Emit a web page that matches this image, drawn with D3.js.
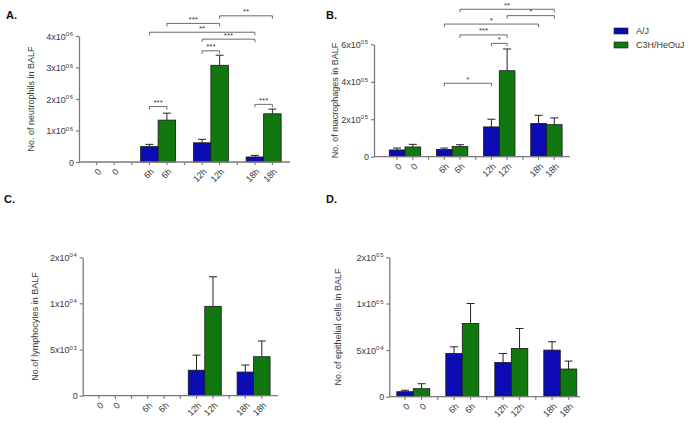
<!DOCTYPE html>
<html><head><meta charset="utf-8">
<script src="https://cdn.jsdelivr.net/npm/d3@7"></script>
<style>
body{margin:0;background:#fff;}
svg{font-family:"Liberation Sans",Arial,sans-serif;}
</style></head>
<body><svg id="c" width="689" height="423"></svg>
<script>
// ---------- data ----------
const groups = ["0", "6h", "12h", "18h"];
const strains = ["A/J", "C3H/HeOuJ"];

const neutroAJ = [0, 0.49e6, 0.61e6, 0.16e6];
const neutroAJErr = [0, 0.07e6, 0.11e6, 0.05e6];
const neutroC3H = [0, 1.33e6, 3.07e6, 1.53e6];
const neutroC3HErr = [0, 0.22e6, 0.32e6, 0.15e6];

const macroAJ = [0.36e5, 0.38e5, 1.59e5, 1.77e5];
const macroAJErr = [0.10e5, 0.08e5, 0.41e5, 0.44e5];
const macroC3H = [0.52e5, 0.54e5, 4.59e5, 1.71e5];
const macroC3HErr = [0.14e5, 0.10e5, 1.16e5, 0.36e5];

const lymphoAJ = [0, 0, 2.76e3, 2.56e3];
const lymphoAJErr = [0, 0, 1.63e3, 0.76e3];
const lymphoC3H = [0, 0, 9.67e3, 4.22e3];
const lymphoC3HErr = [0, 0, 6.1e3, 1.7e3];

const epiAJ = [0.54e4, 4.64e4, 3.68e4, 5.0e4];
const epiAJErr = [0.15e4, 0.71e4, 0.96e4, 0.89e4];
const epiC3H = [0.86e4, 7.86e4, 5.18e4, 2.97e4];
const epiC3HErr = [0.53e4, 2.14e4, 2.14e4, 0.85e4];

const ticksA = [0, 1e6, 2e6, 3e6, 4e6];
const ticksB = [0, 2e5, 4e5, 6e5];
const ticksC = [0, 5e3, 1e4, 2e4];
const ticksD = [0, 5e4, 1e5, 2e5];

// significance comparisons: [group, strain] -> [group, strain], label, bracket level (data units)
const sigA = [
  {a: ["6h", 0], b: ["6h", 1], label: "***", level: 1.76e6},
  {a: ["18h", 0], b: ["18h", 1], label: "***", level: 1.83e6},
  {a: ["12h", 0], b: ["12h", 1], label: "***", level: 3.53e6},
  {a: ["12h", 0], b: ["18h", 0], label: "***", level: 3.90e6},
  {a: ["6h", 0], b: ["18h", 0], label: "**", level: 4.12e6},
  {a: ["6h", 1], b: ["12h", 1], label: "***", level: 4.40e6},
  {a: ["12h", 1], b: ["18h", 1], label: "**", level: 4.64e6}
];
const sigB = [
  {a: ["6h", 0], b: ["12h", 0], label: "*", level: 3.92e5},
  {a: ["12h", 0], b: ["12h", 1], label: "*", level: 6.05e5},
  {a: ["6h", 1], b: ["12h", 1], label: "***", level: 6.50e5},
  {a: ["6h", 0], b: ["18h", 0], label: "*", level: 7.08e5},
  {a: ["12h", 1], b: ["18h", 1], label: "*", level: 7.53e5},
  {a: ["6h", 1], b: ["18h", 1], label: "**", level: 7.87e5}
];

// ---------- drawing ----------
const svg = d3.select("#c");
const BLUE = "#0c0cb4", GREEN = "#10780f";
const AXIS = "#7a7a7a", TXT = "#3a3a3a";

function drawPanel(o) {
  const g = svg.append("g");
  const x = d3.scaleBand().domain(groups).range(o.band).paddingInner(0).paddingOuter(0);
  const y = d3.scaleLinear().domain(o.yDomain).range(o.yRange);
  const bw = o.barW;
  const cx = (grp, s) => x(grp) + x.bandwidth() / 2 + (s === 0 ? -bw / 2 : bw / 2);

  // bars
  const rows = [];
  groups.forEach((grp, i) => {
    rows.push({grp, s: 0, v: o.aj[i], e: o.ajErr[i]});
    rows.push({grp, s: 1, v: o.c3h[i], e: o.c3hErr[i]});
  });
  const base = y(0);
  // error bars
  rows.filter(d => d.v > 0).forEach(d => {
    const xc = cx(d.grp, d.s);
    g.append("line").attr("x1", xc).attr("x2", xc).attr("y1", y(d.v)).attr("y2", y(d.v + d.e))
      .attr("stroke", "#222").attr("stroke-width", 1);
    g.append("line").attr("x1", xc - 4).attr("x2", xc + 4).attr("y1", y(d.v + d.e)).attr("y2", y(d.v + d.e))
      .attr("stroke", "#222").attr("stroke-width", 1);
  });
  g.selectAll("rect.bar").data(rows.filter(d => d.v > 0)).join("rect")
    .attr("x", d => cx(d.grp, d.s) - bw / 2)
    .attr("y", d => y(d.v))
    .attr("width", bw)
    .attr("height", d => base - y(d.v))
    .attr("fill", d => d.s === 0 ? BLUE : GREEN)
    .attr("stroke", "#1a1a1a").attr("stroke-width", 0.8);

  // y axis
  const ya = g.append("g").attr("transform", `translate(${o.yAxisX},0)`)
    .call(d3.axisLeft(y).tickValues(o.yTicks).tickSize(3).tickSizeOuter(0).tickFormat(""));
  ya.select(".domain").attr("stroke", AXIS).attr("stroke-width", 1.3);
  ya.selectAll(".tick line").attr("stroke", AXIS).attr("stroke-width", 1.2);
  ya.selectAll(".tick").each(function(v) {
    const t = d3.select(this).append("text").attr("x", -5).attr("dy", "0.35em")
      .attr("text-anchor", "end").attr("fill", TXT).attr("font-size", 9);
    if (v === 0) { t.text("0"); return; }
    const ex = Math.floor(Math.log10(v) + 1e-9);
    const m = Math.round(v / Math.pow(10, ex));
    t.append("tspan").text(m + "x10");
    t.append("tspan").attr("dy", -3.5).attr("font-size", 6).attr("letter-spacing", 0.8)
      .text("0" + ex);
  });

  // x axis
  const tickPos = [];
  groups.forEach((grp, i) => {
    if (i > 0) tickPos.push({x: x(grp), label: null});
    tickPos.push({x: cx(grp, 0), label: grp});
    tickPos.push({x: cx(grp, 1), label: grp});
  });
  g.append("line").attr("x1", o.yAxisX).attr("x2", o.xEnd).attr("y1", base).attr("y2", base)
    .attr("stroke", AXIS).attr("stroke-width", 1.3);
  tickPos.forEach(t => {
    g.append("line").attr("x1", t.x).attr("x2", t.x).attr("y1", base).attr("y2", base + 3)
      .attr("stroke", AXIS).attr("stroke-width", 1.2);
    if (t.label) {
      g.append("text").attr("transform", `translate(${t.x + 3},${base + 8}) rotate(-45)`)
        .attr("text-anchor", "end").attr("dy", "0.35em").attr("font-size", 9).attr("fill", TXT)
        .text(t.label);
    }
  });

  // y label
  g.append("text").attr("transform", `translate(${o.labelX},${(o.yRange[0] + o.yRange[o.yRange.length - 1]) / 2}) rotate(-90)`)
    .attr("text-anchor", "middle").attr("font-size", 9).attr("fill", TXT).text(o.yLabel);

  // title
  g.append("text").attr("x", o.title[1]).attr("y", o.title[2]).attr("font-size", 11)
    .attr("font-weight", "bold").attr("fill", "#111").text(o.title[0]);

  // significance brackets
  (o.sig || []).forEach(s => {
    const x1 = cx(s.a[0], s.a[1]), x2 = cx(s.b[0], s.b[1]), yy = y(s.level);
    g.append("path").attr("d", `M${x1},${yy + 3}V${yy}H${x2}V${yy + 3}`)
      .attr("fill", "none").attr("stroke", "#6a6a6a").attr("stroke-width", 1);
    g.append("text").attr("x", (x1 + x2) / 2).attr("y", yy - 1.5).attr("text-anchor", "middle")
      .attr("font-size", 8).attr("fill", TXT).text(s.label);
  });
}

drawPanel({
  aj: neutroAJ, ajErr: neutroAJErr, c3h: neutroC3H, c3hErr: neutroC3HErr,
  band: [79, 290], xEnd: 290, yAxisX: 79, barW: 17.5,
  yDomain: [0, 4e6], yRange: [162, 36], yTicks: ticksA,
  yLabel: "No. of neutrophils in BALF", labelX: 34, title: ["A.", 6, 19], sig: sigA
});
drawPanel({
  aj: macroAJ, ajErr: macroAJErr, c3h: macroC3H, c3hErr: macroC3HErr,
  band: [381.4, 570], xEnd: 570, yAxisX: 374, barW: 15.7,
  yDomain: [0, 6e5], yRange: [156.7, 44.3], yTicks: ticksB,
  yLabel: "No. of macrophages in BALF", labelX: 338, title: ["B.", 326, 19], sig: sigB
});
drawPanel({
  aj: lymphoAJ, ajErr: lymphoAJErr, c3h: lymphoC3H, c3hErr: lymphoC3HErr,
  band: [82.7, 278], xEnd: 278, yAxisX: 82.7, barW: 16.5,
  yDomain: [0, 1e4, 2e4], yRange: [395.7, 303.3, 257.3], yTicks: ticksC,
  yLabel: "No.of  lymphocytes in BALF", labelX: 38, title: ["C.", 4, 203]
});
drawPanel({
  aj: epiAJ, ajErr: epiAJErr, c3h: epiC3H, c3hErr: epiC3HErr,
  band: [388.8, 584.8], xEnd: 580, yAxisX: 389.3, barW: 16.5,
  yDomain: [0, 1e5, 2e5], yRange: [396.7, 303.5, 257.3], yTicks: ticksD,
  yLabel: "No. of epithelial cells in BALF", labelX: 341, title: ["D.", 326, 203]
});

// legend
const leg = svg.append("g").attr("transform", "translate(614,31)");
strains.forEach((s, i) => {
  leg.append("rect").attr("x", 0).attr("y", i * 14 - 3).attr("width", 14).attr("height", 6)
    .attr("fill", i === 0 ? BLUE : GREEN).attr("stroke", "#1a1a1a").attr("stroke-width", 0.6);
  leg.append("text").attr("x", 22).attr("y", i * 14).attr("dy", "0.35em").attr("font-size", 9)
    .attr("fill", TXT).text(s);
});
</script>
</body></html>
